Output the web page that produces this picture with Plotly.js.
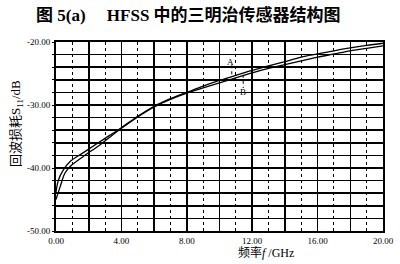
<!DOCTYPE html>
<html>
<head>
<meta charset="utf-8">
<script src="https://cdn.plot.ly/plotly-3.0.1.min.js"></script>
<style>html,body{margin:0;padding:0;background:#fff;}#chart{width:400px;height:264px;}</style>
</head>
<body>
<div id="chart"></div>
<script>
// Data
var freqA = [0, 0.15, 0.45, 0.85, 1.65, 2.7, 4, 5, 6, 7, 8, 9, 10, 11, 12, 13, 14, 15, 16, 17, 18, 19, 20];
var lossA = [-43.8, -41.9, -40.3, -39.0, -37.6, -35.8, -33.6, -31.8, -30.2, -29.0, -28.0, -27.0, -26.1, -25.3, -24.5, -23.8, -23.1, -22.4, -21.9, -21.4, -20.95, -20.55, -20.2];
var freqB = [0, 0.25, 0.55, 0.85, 1.65, 2.7, 4, 5, 6, 7, 8, 9, 10, 11, 12, 13, 14, 15, 16, 17, 18, 19, 20];
var lossB = [-45.0, -43.0, -40.8, -39.8, -38.2, -36.3, -33.7, -31.9, -30.3, -29.1, -28.1, -27.3, -26.5, -25.7, -24.9, -24.2, -23.6, -23.0, -22.4, -21.9, -21.4, -21.0, -20.6];

var xMajorVals = [0, 2, 4, 6, 8, 10, 12, 14, 16, 18, 20];
var xMajorText = ['0.00', ' ', '4.00', ' ', '8.00', ' ', '12.00', ' ', '16.00', ' ', '20.00'];
var xMinorVals = [1, 3, 5, 7, 9, 11, 13, 15, 17, 19];
var yTickVals = [-50, -48, -46, -44, -42, -40, -38, -36, -34, -32, -30, -28, -26, -24, -22, -20];
var yTickText = ['-50.00', ' ', ' ', ' ', ' ', '-40.00', ' ', ' ', ' ', ' ', '-30.00', ' ', ' ', ' ', ' ', '-20.00'];

var titleText = '图 5(a)&nbsp;&nbsp;&nbsp;&nbsp; HFSS 中的三明治传感器结构图';
var xTitle = '频率<i>f</i> /GHz';
var yTitle = '回波损耗S<sub>11</sub>/dB';
var labelA = 'A', labelB = 'B';
var labelAx = 10.65, labelAy = -23.2;
var labelBx = 11.45, labelBy = -27.9;

var traces = [
  {x: freqA, y: lossA, type: 'scatter', mode: 'lines', line: {color: '#000', width: 1.3, shape: 'spline'}, hoverinfo: 'skip'},
  {x: freqB, y: lossB, type: 'scatter', mode: 'lines', line: {color: '#000', width: 1.3, shape: 'spline'}, hoverinfo: 'skip'}
];

var serif = 'Liberation Serif, Noto Sans CJK SC, serif';
var W = 400, H = 264, L = 56, R = 17, T = 42, B = 33;
function px(x){ return (x - L) / (W - L - R); }
function py(y){ return (H - B - y) / (H - T - B); }

var layout = {
  width: W, height: H,
  margin: {l: L, r: R, t: T, b: B, pad: 0},
  paper_bgcolor: '#fff', plot_bgcolor: '#fff',
  showlegend: false,
  font: {family: serif, color: '#000', size: 9},
  xaxis: {
    range: [0, 20], tickmode: 'array', tickvals: xMajorVals, ticktext: xMajorText,
    showgrid: true, gridcolor: '#000', gridwidth: 1.6,
    minor: {tickmode: 'array', tickvals: xMinorVals, showgrid: true, gridcolor: '#000', gridwidth: 1, griddash: 'dot', ticks: ''},
    showline: true, linecolor: '#000', linewidth: 2, mirror: true,
    ticks: '', ticklabelstandoff: 0,
    tickfont: {family: serif, size: 9, color: '#000'}, zeroline: false, fixedrange: true
  },
  yaxis: {
    range: [-50, -20], tickmode: 'array', tickvals: yTickVals, ticktext: yTickText,
    showgrid: true, gridcolor: '#000', gridwidth: 1.6,
    showline: true, linecolor: '#000', linewidth: 2, mirror: true,
    ticks: 'outside', ticklen: 2, tickcolor: '#000', tickwidth: 1, ticklabelstandoff: 0,
    tickfont: {family: serif, size: 9, color: '#000'}, zeroline: false, fixedrange: true
  },
  shapes: [
    {type: 'line', xref: 'x', yref: 'y', x0: labelAx + 0.1, x1: labelAx + 0.1, y0: labelAy - 0.5, y1: -25.4, line: {color: '#000', width: 1, dash: 'dot'}},
    {type: 'line', xref: 'x', yref: 'y', x0: labelBx, x1: labelBx, y0: -25.2, y1: labelBy + 0.6, line: {color: '#000', width: 1, dash: 'dot'}}
  ],
  annotations: [
    {text: titleText, xref: 'paper', yref: 'paper', x: px(34), y: py(15), xanchor: 'left', yanchor: 'middle', showarrow: false, font: {family: serif, size: 17, color: '#000', weight: 'bold'}},
    {text: xTitle, xref: 'paper', yref: 'paper', x: px(266), y: py(252), xanchor: 'center', yanchor: 'middle', showarrow: false, font: {family: serif, size: 12, color: '#000'}},
    {text: yTitle, xref: 'paper', yref: 'paper', x: px(16), y: py(124), xanchor: 'center', yanchor: 'middle', textangle: -90, showarrow: false, font: {family: serif, size: 13, color: '#000'}},
    {text: labelA, xref: 'x', yref: 'y', x: labelAx, y: labelAy, showarrow: false, font: {family: serif, size: 9, color: '#000'}},
    {text: labelB, xref: 'x', yref: 'y', x: labelBx, y: labelBy, showarrow: false, font: {family: serif, size: 9, color: '#000'}}
  ]
};

Plotly.newPlot('chart', traces, layout, {staticPlot: true, displayModeBar: false});
</script>
</body>
</html>
